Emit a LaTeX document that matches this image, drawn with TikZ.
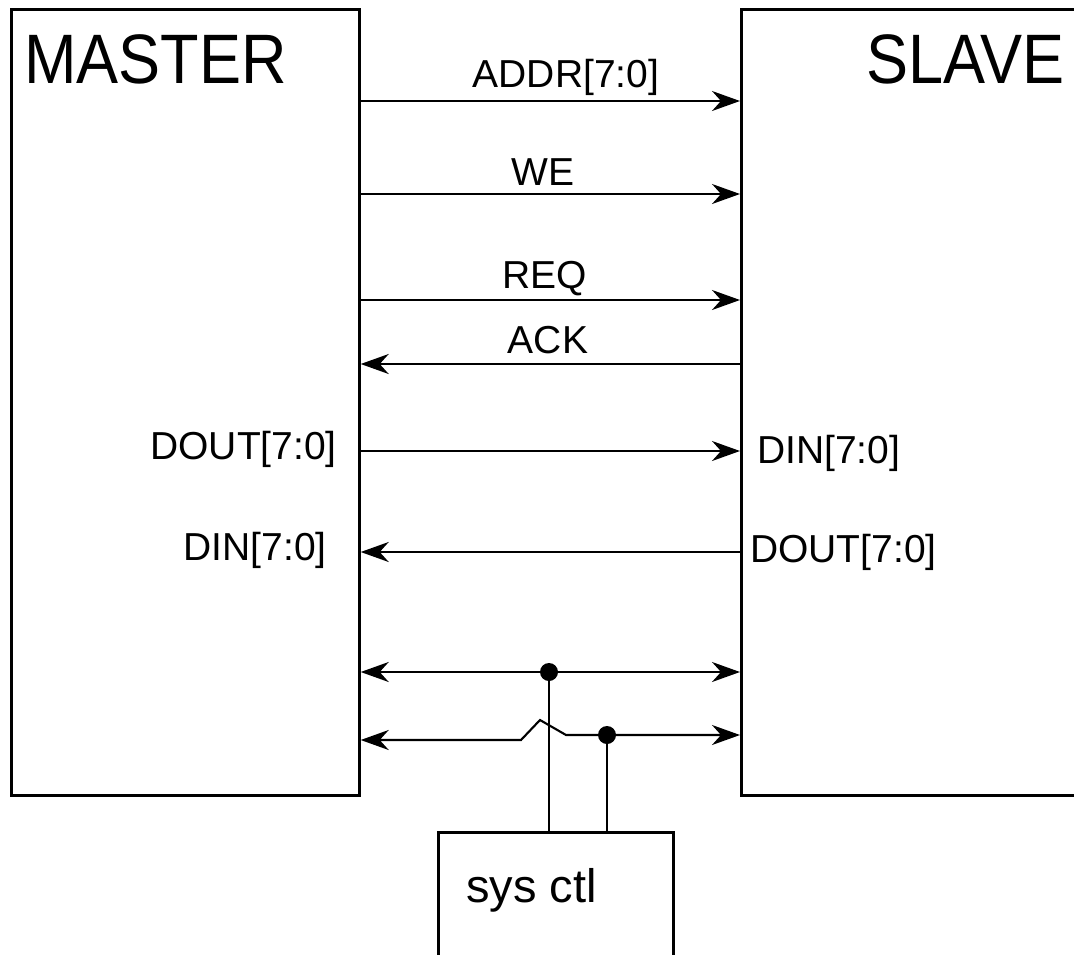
\documentclass[tikz,border=0pt]{standalone}
\usepackage{fontspec}
\setmainfont{Liberation Sans}
\newfontfamily\bigfont[FakeStretch=0.9]{Liberation Sans}
\usetikzlibrary{arrows.meta}
\begin{document}
\begin{tikzpicture}[x=1pt,y=-1pt,
  box/.style={draw=black,line width=2.7pt,inner sep=0pt,anchor=north west},
  sig/.style={draw=black,line width=2.1pt},
  tip/.tip={Stealth[length=28pt,width=20pt,inset=9pt]},
  lbl/.style={inner sep=0pt,font=\fontsize{39}{40}\selectfont},
  title/.style={inner sep=0pt,anchor=base west,font=\bigfont\fontsize{70}{70}\selectfont},
  dot/.style={circle,fill=black,inner sep=0pt,minimum size=18pt}]
\clip (0,0) rectangle (1074,954);
\fill[white] (0,0) rectangle (1074,954);
% blocks
\node[box,minimum width=348pt,minimum height=786pt] (master) at (10,8) {};
\node[box,minimum width=380pt,minimum height=786pt] (slave) at (740,8) {};
\node[box,minimum width=235pt,minimum height=170pt] (sys) at (437,831) {};
\node[title] (mtitle) at (24,83) {MASTER};
\node[title] (stitle) at (866,83) {SLAVE};
\node[lbl,anchor=base west,font=\fontsize{47}{48}\selectfont] (systxt) at (466,902) {sys ctl};
% signal levels
\coordinate (yA) at (0,101);
\coordinate (yW) at (0,194);
\coordinate (yR) at (0,300);
\coordinate (yK) at (0,364);
\coordinate (yD1) at (0,451);
\coordinate (yD2) at (0,552);
\coordinate (yB1) at (0,672);
\coordinate (yB2) at (0,740);
\coordinate (h1) at (521,740);
\coordinate (h2) at (540,720);
\coordinate (h3) at (566,735);
% connectors
\draw[sig,-tip] (master.east |- yA) -- (slave.west |- yA);
\draw[sig,-tip] (master.east |- yW) -- (slave.west |- yW);
\draw[sig,-tip] (master.east |- yR) -- (slave.west |- yR);
\draw[sig,tip-] (master.east |- yK) -- (slave.west |- yK);
\draw[sig,-tip] (master.east |- yD1) -- (slave.west |- yD1);
\draw[sig,tip-] (master.east |- yD2) -- (slave.west |- yD2);
\draw[sig,tip-tip] (master.east |- yB1) -- (slave.west |- yB1);
\draw[sig,tip-tip] (master.east |- yB2) -- (h1) -- (h2) -- (h3) -- (slave.west |- h3);
\node[dot] (d1) at (549,672) {};
\node[dot] (d2) at (607,735) {};
\draw[sig] (d1.center) -- (d1 |- sys.north);
\draw[sig] (d2.center) -- (d2 |- sys.north);
% labels
\node[lbl,anchor=base] (lA) at (566,87) {ADDR[7:0]};
\node[lbl,anchor=base] (lW) at (543,185) {WE};
\node[lbl,anchor=base] (lR) at (545,288) {REQ};
\node[lbl,anchor=base] (lK) at (548,353) {ACK};
\node[lbl,anchor=base east] (mdout) at (337,459) {DOUT[7:0]};
\node[lbl,anchor=base east] (mdin) at (327,560) {DIN[7:0]};
\node[lbl,anchor=base west] (sdin) at (757,463) {DIN[7:0]};
\node[lbl,anchor=base west] (sdout) at (750,562) {DOUT[7:0]};
\end{tikzpicture}
\end{document}
